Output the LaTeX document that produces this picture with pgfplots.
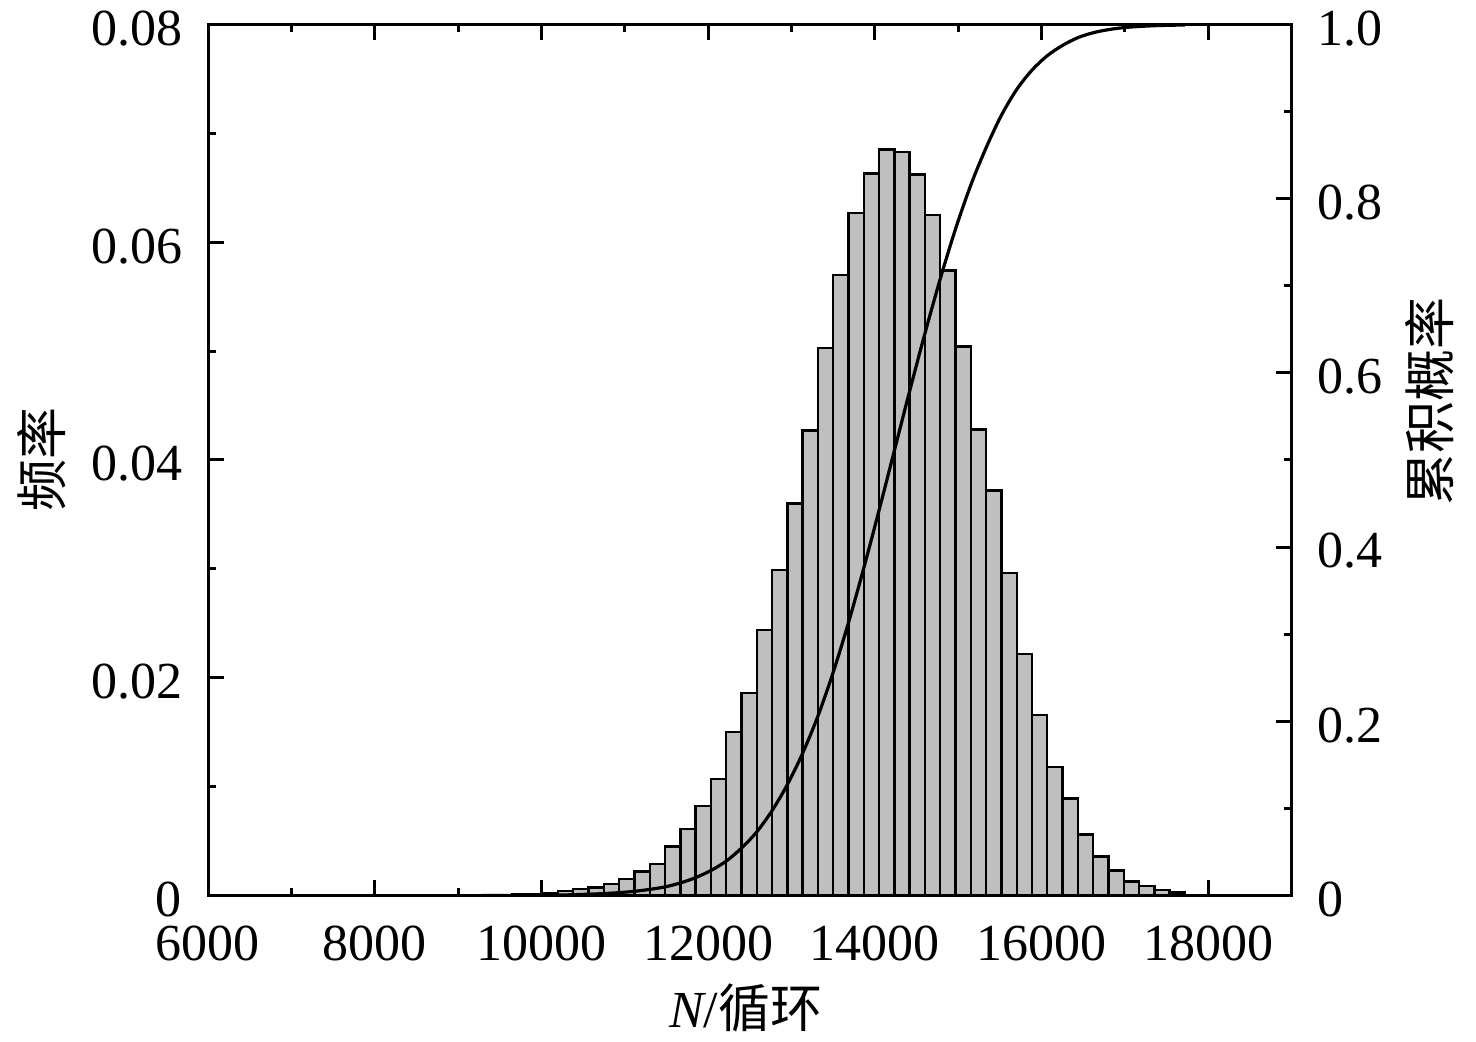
\documentclass[border=0pt]{standalone}
\usepackage{fontspec}
\setmainfont{Liberation Serif}
\newfontfamily\cjk{Noto Sans CJK SC}
\usepackage{pgfplots}
\pgfplotsset{compat=1.18}
\begin{document}
\fontsize{13}{15}\selectfont
\begin{tikzpicture}
\path[use as bounding box] (0,0) rectangle (369pt,260.25pt);
\pgfplotsset{
  common/.style={
    scale only axis, width=270.9pt, height=217.8pt,
    at={(52pt,36.375pt)}, anchor=south west,
    xmin=6000, xmax=19000,
    scaled x ticks=false, scaled y ticks=false,
    tick align=inside, major tick length=4pt, minor tick length=2pt,
    every tick/.style={black, line width=0.75pt},
    axis line style={line width=0.75pt},
    tick label style={font=\fontsize{13}{15}\selectfont, inner sep=0pt},
    label style={font=\fontsize{13}{15}\selectfont},
    /pgf/number format/assume math mode=true,
  }
}
\begin{axis}[common,
  ymin=0, ymax=0.08,
  xtick={6000,8000,10000,12000,14000,16000,18000},
  xticklabels={6000,8000,10000,12000,14000,16000,18000},
  minor x tick num=1,
  ytick={0,0.02,0.04,0.06,0.08},
  yticklabels={0,0.02,0.04,0.06,0.08},
  minor y tick num=1,
  ytick pos=left,
  xtick pos=both,
  xticklabel pos=bottom,
  xticklabel style={yshift=-7.3pt},
  yticklabel style={xshift=-6.3pt, yshift=-1pt},
  xlabel={{\itshape N}/{\cjk 循环}},
  xlabel style={at={(rel axis cs:0.4963,-0.129)}, anchor=center},
  ylabel={{\cjk 频率}},
  ylabel style={at={(rel axis cs:-0.1532,0.5)}, anchor=center, rotate=0},
]
\addplot[ybar interval, fill=black!25, draw=black, line width=0.6pt] coordinates {
(9281.3,0.00005) (9464.8,0.00005) (9648.2,0.0001) (9831.7,0.0001)
(10015.1,0.0002) (10198.6,0.0004) (10382.0,0.0006) (10565.5,0.00075)
(10748.9,0.00105) (10932.4,0.0015) (11115.8,0.0022) (11299.3,0.0029)
(11482.7,0.0045) (11666.2,0.0061) (11849.6,0.0082) (12033.1,0.0107)
(12216.5,0.0150) (12400.0,0.0186) (12583.4,0.0244) (12766.9,0.0299)
(12950.3,0.0360) (13133.8,0.0427) (13317.2,0.0503) (13500.7,0.0570)
(13684.1,0.0627) (13867.6,0.0663) (14051.0,0.0685) (14234.5,0.0683)
(14417.9,0.0662) (14601.4,0.0625) (14784.8,0.0574) (14968.3,0.0504)
(15151.7,0.0428) (15335.2,0.0372) (15518.6,0.0296) (15702.1,0.0222)
(15885.5,0.0166) (16069.0,0.0118) (16252.4,0.0089) (16435.9,0.0056)
(16619.3,0.0036) (16802.8,0.0023) (16986.2,0.0013) (17169.7,0.0009)
(17353.1,0.0005) (17536.6,0.00026) (17720.0,0.00026)
};
\end{axis}
\begin{axis}[common,
  ymin=0, ymax=1,
  hide x axis,
  ytick={0,0.2,0.4,0.6,0.8,1.0},
  yticklabels={0,0.2,0.4,0.6,0.8,1.0},
  minor y tick num=1,
  ytick pos=right,
  yticklabel pos=right,
  yticklabel style={xshift=6.3pt, yshift=-1pt},
  ylabel={{\cjk 累积概率}},
  ylabel style={at={(rel axis cs:1.1276,0.5665)}, anchor=center, rotate=0},
]
\addplot[black, line width=0.8pt, smooth, tension=0.5] coordinates {
(9281.3,0) (9464.8,0.00005) (9648.2,0.0001) (9831.7,0.0002)
(10015.1,0.0003) (10198.6,0.0005) (10382.0,0.0009) (10565.5,0.0015)
(10748.9,0.00225) (10932.4,0.0033) (11115.8,0.0048) (11299.3,0.0070)
(11482.7,0.0099) (11666.2,0.0144) (11849.6,0.0205) (12033.1,0.0287)
(12216.5,0.0394) (12400.0,0.0544) (12583.4,0.0730) (12766.9,0.0974)
(12950.3,0.1273) (13133.8,0.1633) (13317.2,0.2060) (13500.7,0.2563)
(13684.1,0.3133) (13867.6,0.3760) (14051.0,0.4423) (14234.5,0.5108)
(14417.9,0.5791) (14601.4,0.6453) (14784.8,0.7078) (14968.3,0.7652)
(15151.7,0.8156) (15335.2,0.8584) (15518.6,0.8956) (15702.1,0.9252)
(15885.5,0.9474) (16069.0,0.9640) (16252.4,0.9758) (16435.9,0.9847)
(16619.3,0.9903) (16802.8,0.9939) (16986.2,0.9962) (17169.7,0.9975)
(17353.1,0.9984) (17536.6,0.9989) (17720.0,0.9992)
};
\end{axis}
\end{tikzpicture}
\end{document}
